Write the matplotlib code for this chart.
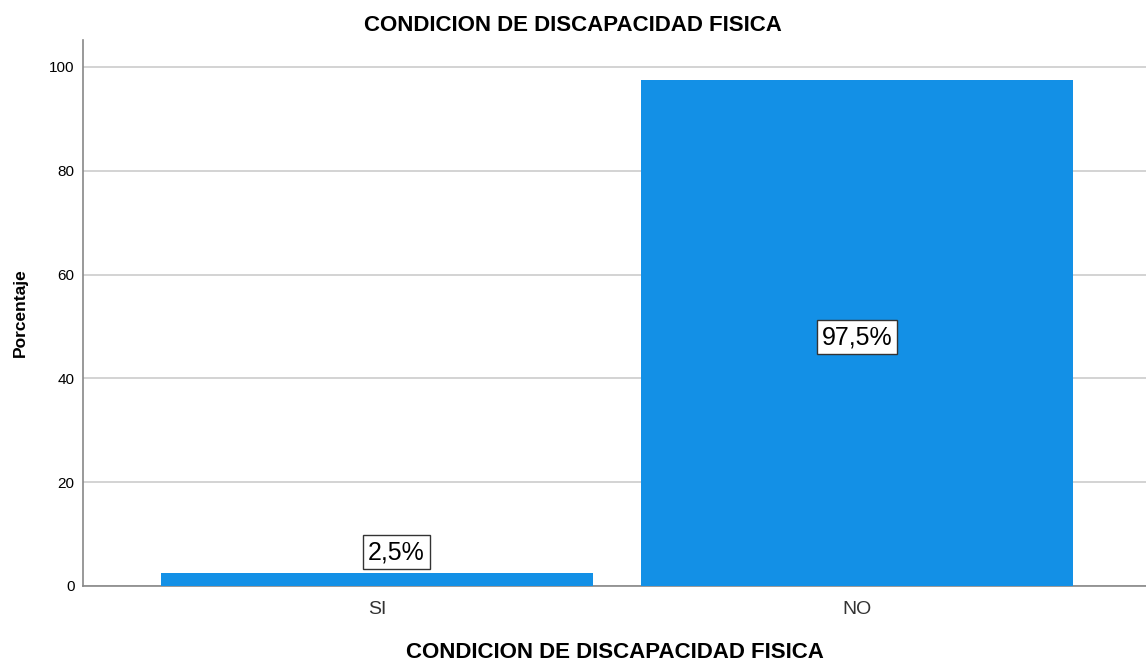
import matplotlib
matplotlib.use("Agg")
import matplotlib.pyplot as plt

plt.rcParams['font.family'] = ['Liberation Sans', 'DejaVu Sans']

# Percentages per category
categories = ['SI', 'NO']
percentages = [2.5, 97.5]
value_labels = ['2,5%', '97,5%']

fig = plt.figure(figsize=(11.46, 6.64), dpi=100)
ax = fig.add_axes([0.0724, 0.1175, 0.9276, 0.8223])

positions = list(range(len(categories)))
ax.bar(positions, percentages, width=0.9, color='#1390E6', zorder=3)

# Value labels in boxes: inside tall bars, above short ones (nudged right)
box = dict(boxstyle='square,pad=0.2', facecolor='white', edgecolor='#333333', linewidth=1)
for pos, val, lab in zip(positions, percentages, value_labels):
    if val > 20:
        ax.text(pos, val / 2 - 0.8, lab, ha='center', va='center', fontsize=18, bbox=box, zorder=4)
    else:
        ax.annotate(lab, xy=(pos, val + 4), xytext=(14, 0), textcoords='offset points',
                    ha='center', va='center', fontsize=18, bbox=box, zorder=4)

ax.set_xlim(-0.6125, 1.602)
ax.set_ylim(0, 105.2)
ax.set_yticks([0, 20, 40, 60, 80, 100])
ax.set_xticks(positions)
ax.set_xticklabels(categories, fontsize=14, color='#333333')
ax.tick_params(axis='both', length=0)
ax.tick_params(axis='y', labelsize=11, pad=6)
ax.tick_params(axis='x', pad=11)
ax.yaxis.grid(True, color='#cccccc', linewidth=1.2, zorder=0)

for side in ['top', 'right']:
    ax.spines[side].set_visible(False)
for side in ['left', 'bottom']:
    ax.spines[side].set_color('#888888')
    ax.spines[side].set_linewidth(1.2)

fig.suptitle('CONDICION DE DISCAPACIDAD FISICA', fontsize=16, fontweight='bold', x=0.5, y=0.978)
ax.set_xlabel('CONDICION DE DISCAPACIDAD FISICA', fontsize=16, fontweight='bold', labelpad=17)
ax.set_ylabel('Porcentaje', fontsize=12.5, fontweight='bold', labelpad=15)

fig.savefig('out.png', dpi=100)
